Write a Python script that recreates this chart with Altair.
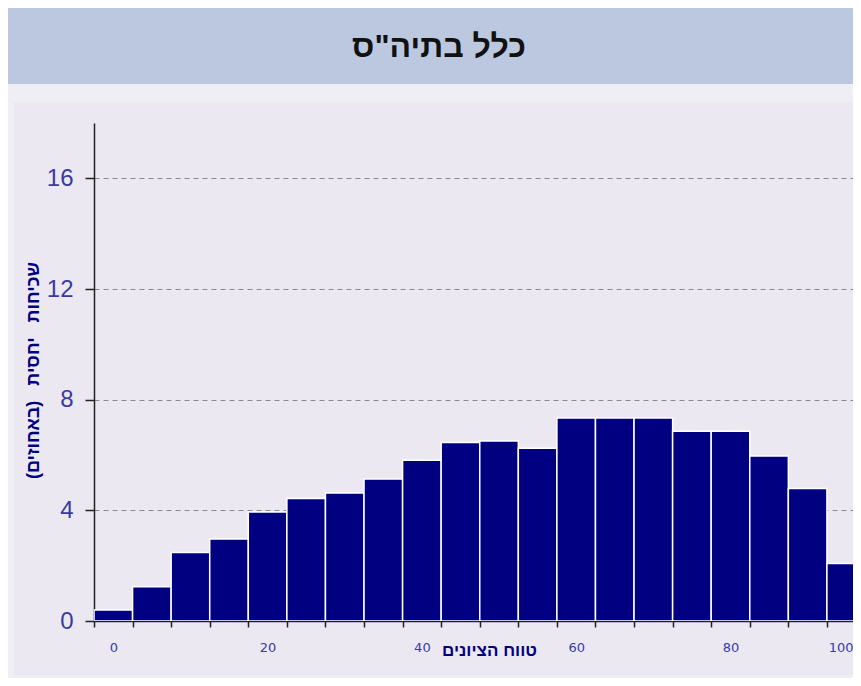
import altair as alt
import pandas as pd

# ---- data ----
centers = [0, 5, 10, 15, 20, 25, 30, 35, 40, 45, 50, 55, 60, 65, 70, 75, 80, 85, 90, 95]
freqs = [0.40, 1.24, 2.48, 2.96, 3.94, 4.43, 4.63, 5.13, 5.81, 6.45,
         6.51, 6.24, 7.34, 7.34, 7.34, 6.86, 6.86, 5.96, 4.79, 2.08]
bin_edges = [-2.5, 2.5, 7.5, 12.5, 17.5, 22.5, 27.5, 32.5, 37.5, 42.5,
             47.5, 52.5, 57.5, 62.5, 67.5, 72.5, 77.5, 82.5, 87.5, 92.5]
x_label_values = [0, 20, 40, 60, 80]
y_tick_values = [0, 4, 8, 12, 16]

title_text = 'כלל בתיה"ס'
x_title = "טווח הציונים"
y_title = "שכיחות\u00a0\u00a0 יחסית\u00a0\u00a0 (באחוזים)"

# ---- layout ----
PX_PER_UNIT = 7.715
W = 759
H = 498
X_MAX = -2.5 + W / PX_PER_UNIT   # the view is cut at the right, as in the reference
BG_PANEL = "#ECE8F2"
BG_OUTER = "#F0EEF5"
TITLE_BAR = "#BBC8E0"

df = pd.DataFrame({"center": centers, "freq": freqs})
x_axis_values = sorted(set(bin_edges + x_label_values + [X_MAX]))

xscale = alt.Scale(domain=[-2.5, X_MAX], nice=False, zero=False)
yscale = alt.Scale(domain=[0, 18], nice=False, zero=True)

one = pd.DataFrame({"k": [0]})


def deco(x, x2, y, y2, color):
    return alt.Chart(one).mark_rect(color=color, strokeWidth=0).encode(
        x=alt.value(x), x2=alt.value(x2), y=alt.value(y), y2=alt.value(y2)
    )


title_bar = deco(-86, W, -115, -39, TITLE_BAR)
band_top = deco(-86, W, -39, -21, BG_OUTER)
band_left = deco(-86, -80, -21, 555, BG_OUTER)
band_bottom = deco(-86, W, 552, 555, BG_OUTER)

title_mark = alt.Chart(one).mark_text(
    text=title_text, font="Liberation Sans", fontSize=32, fontWeight="bold",
    color="#111111", align="center", baseline="middle"
).encode(x=alt.value(345), y=alt.value(-76))

bars = alt.Chart(df).transform_calculate(
    lo="datum.center - 2.5", hi="datum.center + 2.5"
).mark_bar(color="#000080", stroke="white", strokeWidth=1.5, clip=True).encode(
    x=alt.X(
        "lo:Q", scale=xscale,
        axis=alt.Axis(
            values=x_axis_values,
            labelExpr=("datum.value % 20 === 0 ? datum.label : "
                       "(datum.value > 95 ? '100' : '')"),
            labelOverlap=False,
            labelAlign={"condition": {"test": "datum.value > 95", "value": "right"},
                        "value": "center"},
            labelFont="DejaVu Sans", labelFontSize=13, labelColor="#3a3aa8",
            labelPadding=14,
            tickSize=6, tickWidth=1.5, tickColor="#222222",
            tickOpacity={"condition": {"test": "datum.value % 5 === 0 || datum.value > 95",
                                       "value": 0}, "value": 1},
            domainColor="#222222", domainWidth=1.5,
            grid=False,
            title=x_title, titleFont="Liberation Sans", titleFontSize=17,
            titleFontWeight="bold", titleColor="#000080",
            titleX=395, titleY=29, titleAlign="center", titleBaseline="middle",
            titleAnchor="middle",
        ),
    ),
    x2="hi:Q",
    y=alt.Y(
        "freq:Q", scale=yscale,
        axis=alt.Axis(
            values=y_tick_values,
            labelFont="Liberation Sans",
            labelFontSize=24, labelColor="#3a3a9f",
            labelPadding=12,
            tickSize=9, tickWidth=1.5, tickColor="#222222",
            domainColor="#222222", domainWidth=1.5,
            grid=True, gridColor="#8a8a8a", gridDash=[5, 4], gridWidth=1,
            gridOpacity={"condition": {"test": "datum.value === 0", "value": 0}, "value": 1},
            title=y_title, titleFont="Liberation Sans", titleFontSize=18,
            titleFontWeight="bold", titleColor="#000080",
            titleX=-61, titleY=247, titleAngle=270,
            titleAlign="center", titleBaseline="middle",
        ),
    ),
    y2=alt.datum(0),
)

chart = alt.layer(
    title_bar, band_top, band_left, band_bottom, bars, title_mark
).properties(
    width=W, height=H, background=BG_PANEL, padding=0
).configure_view(stroke=None, fill=None)

chart.save("out.html", embed_options={"renderer": "svg", "actions": False})
